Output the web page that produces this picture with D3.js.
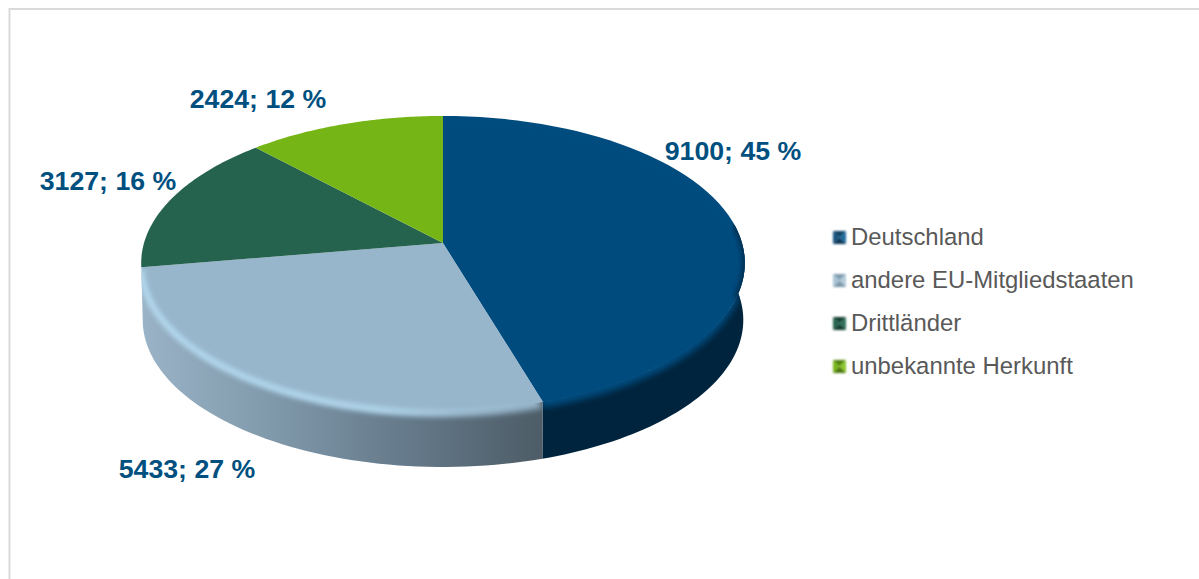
<!DOCTYPE html>
<html><head><meta charset="utf-8">
<script src="https://cdn.jsdelivr.net/npm/d3@7"></script>
<style>html,body{margin:0;background:#fff}svg{display:block}text{font-family:"Liberation Sans",Arial,sans-serif}</style>
</head><body><div id="c"></div>
<script>
const categories=["Deutschland","andere EU-Mitgliedstaaten","Drittländer","unbekannte Herkunft"];
const values=[9100,5433,3127,2424];
const percents=[45,27,16,12];
const topColors=["#004c7e","#97b6cb","#25634e","#76b516"];
const wallStops=[["#00243d","#00243d"],["#9ab3c6","#7f98aa","#64798a","#4d5c66"],["#1a4a3a","#1a4a3a"],["#55850f","#55850f"]];
const markerShades=[["#0f3f62","#1d6a9c","#0a3557","#15527f"],["#7f9bae","#b4cad9","#7b97a9","#a9c4d6"],["#173f32","#2f6f5a","#163d30","#25634e"],["#4f7f0c","#8ac62a","#4a770b","#76b516"]];
const labelPos=[[733,150],[187,468],[108,180],[258,98]];
const legendY=[237,280,323,366];

const W=1199,H=579,cx=443,cy=243,Rx=299,Ry=144.3,k=0.136,depth=57,bevel=6;
const svg=d3.select("#c").append("svg").attr("width",W).attr("height",H);
const defs=svg.append("defs");
function blur(id,sd){defs.append("filter").attr("id",id).attr("x","-20%").attr("y","-20%").attr("width","140%").attr("height","140%")
  .append("feGaussianBlur").attr("stdDeviation",sd);}
blur("soft",3); blur("hl",2.6); blur("mk",0.8);

svg.append("path").attr("d",`M9.5,${H}V9H${W}`).attr("fill","none").attr("stroke","#dadada").attr("stroke-width",2);

const pie=d3.pie().sort(null).value(d=>d)(values);
function proj(a){const u=Math.sin(a),v=-Math.cos(a),w=1-k*v;return [cx+Rx*u/w,cy+Ry*v/w];}
const rim=(a0,a1)=>d3.range(0,61).map(i=>proj(a0+(a1-a0)*i/60));
const line=d3.line();
const topPath=d=>line([[cx,cy],...rim(d.startAngle,d.endAngle)])+"Z";

// the wall only shows on the front: from just before 90deg to the end of the second slice
const sideLo=Math.PI/2-0.13, sideHi=pie[1].endAngle;
pie.forEach((d,i)=>{
  const a0=Math.max(d.startAngle,sideLo),a1=Math.min(d.endAngle,sideHi);
  const clipId="clip"+i;
  const hasWall=a1>a0;
  let pts,xs,gg;
  if(hasWall){
    pts=rim(a0,a1);
    xs=d3.extent(pts,p=>p[0]);
    const g=defs.append("linearGradient").attr("id","side"+i).attr("gradientUnits","userSpaceOnUse")
      .attr("x1",xs[0]).attr("x2",xs[1]).attr("y1",0).attr("y2",0);
    wallStops[i].forEach((c,j)=>g.append("stop").attr("offset",j/(wallStops[i].length-1)).attr("stop-color",c));
    const low=pts.slice().reverse().map(p=>[p[0]+(cx-p[0])*0.005,p[1]+depth]);
    const wall=line([...pts,...low])+"Z";
    svg.append("path").attr("d",wall).attr("fill",`url(#side${i})`);
    const cp=defs.append("clipPath").attr("id",clipId);
    cp.append("path").attr("d",wall);
    cp.append("path").attr("d",topPath(d));
  }
  svg.append("path").attr("d",topPath(d)).attr("fill",topColors[i]);
  if(hasWall){
    gg=svg.append("g").attr("clip-path",`url(#${clipId})`);
    gg.append("path").attr("d",topPath(d)).attr("transform",`translate(0,${bevel})`)
      .attr("fill",topColors[i]).attr("filter","url(#soft)");
    if(i===1){
      const h=defs.append("linearGradient").attr("id","hlg").attr("gradientUnits","userSpaceOnUse")
        .attr("x1",xs[0]).attr("x2",xs[1]).attr("y1",0).attr("y2",0);
      [[0,0.95],[0.6,0.9],[0.8,0.35],[1,0]].forEach(s=>h.append("stop").attr("offset",s[0]).attr("stop-color","#b6dcf2").attr("stop-opacity",s[1]));
      gg.append("path").attr("d",line(pts)).attr("transform","translate(0,3)").attr("fill","none")
        .attr("stroke","url(#hlg)").attr("stroke-width",6).attr("filter","url(#hl)");
    }
    if(i===0){
      // dark vignette where the rim turns at the right-hand extreme
      gg.append("path").attr("d",line(rim(a0,a0+0.5))).attr("fill","none")
        .attr("stroke","#00243d").attr("stroke-width",4).attr("filter","url(#hl)");
    }
  }
});
// data labels
pie.forEach((d,i)=>{
  svg.append("text").attr("x",labelPos[i][0]).attr("y",labelPos[i][1]).attr("dy","0.36em")
    .attr("text-anchor","middle").attr("font-size",26.7).attr("font-weight","bold").attr("fill","#00507f")
    .text(`${values[i]}; ${percents[i]} %`);
});
// legend
categories.forEach((c,i)=>{
  const g=svg.append("g").attr("transform",`translate(833,${legendY[i]-6})`).attr("filter","url(#mk)");
  const s=13,m=[s/2,s/2];
  const corners=[[0,0],[s,0],[s,s],[0,s]];
  corners.forEach((p,j)=>{
    const q=corners[(j+1)%4];
    g.append("path").attr("d",line([p,q,m])+"Z").attr("fill",markerShades[i][j]);
  });
  svg.append("text").attr("x",851).attr("y",legendY[i]).attr("dy","0.33em")
    .attr("font-size",23.9).attr("fill","#595959").text(c);
});
</script></body></html>
